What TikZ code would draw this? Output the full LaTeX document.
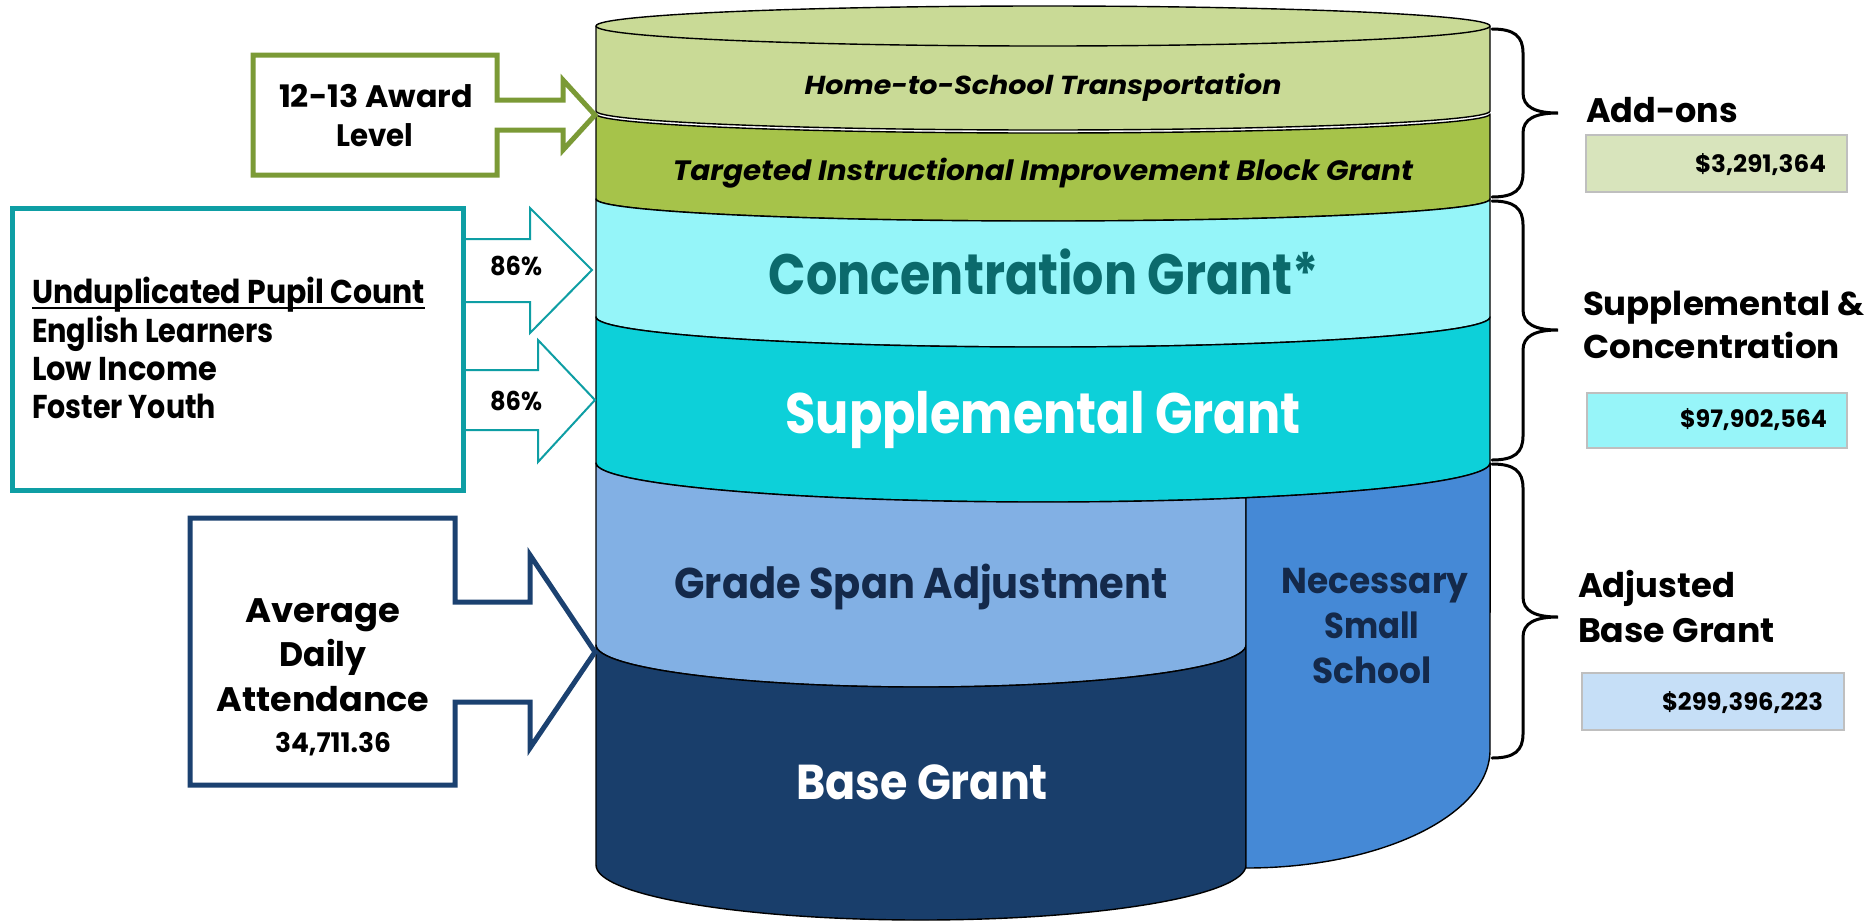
\documentclass[tikz,border=0pt]{standalone}
\usepackage{fontspec}
\setmainfont{Poppins}
\usepackage{graphicx}
\usetikzlibrary{calc}
\definecolor{cTop}{HTML}{C9DA96}
\definecolor{cTiibg}{HTML}{A6C34A}
\definecolor{cConc}{HTML}{95F5F9}
\definecolor{cSupp}{HTML}{0DD0D9}
\definecolor{cGrade}{HTML}{82B0E4}
\definecolor{cNss}{HTML}{4589D6}
\definecolor{cBase}{HTML}{193E6B}
\definecolor{cConcTxt}{HTML}{0B6A6C}
\definecolor{cDark}{HTML}{14294A}
\definecolor{cOlive}{HTML}{7B9A36}
\definecolor{cTeal}{HTML}{0E9EA4}
\definecolor{cNavy}{HTML}{1B4170}
\definecolor{cValA}{HTML}{D8E4BC}
\definecolor{cValB}{HTML}{97F5F9}
\definecolor{cValC}{HTML}{C6DFF7}
\definecolor{cValLine}{HTML}{BFBFBF}
\newcommand\fsz[1]{\fontsize{#1}{#1}\selectfont}
\newcommand\fitw[2]{\resizebox{#1pt}{\height}{#2}}
\newcommand\bracepath[3]{%
  \draw[bracestyle] (1492,#1) .. controls (1514,#1) and (1523,{#1+7}) .. (1523,{#1+24})
    -- (1523,{#2-20}) .. controls (1523,{#2-6}) and (1535,#2) .. (1558,#2)
    .. controls (1535,#2) and (1523,{#2+6}) .. (1523,{#2+20})
    -- (1523,{#3-24}) .. controls (1523,{#3-7}) and (1514,#3) .. (1492,#3);}
\begin{document}
\begin{tikzpicture}[x=1pt,y=1pt,yscale=-1,
  every node/.style={inner sep=0pt,outer sep=0pt},
  cyl/.style={draw=black,line width=1.4pt,line join=round},
  callout/.style={line width=5pt,fill=white,line join=miter},
  thinarrow/.style={draw=cTeal,line width=2pt,fill=white,line join=miter},
  bracestyle/.style={draw=black,line width=3pt,line cap=round},
  valbox/.style={draw=cValLine,line width=1.5pt},
  lbl/.style={anchor=base},
  lblw/.style={anchor=base west},
  lble/.style={anchor=base east}]
\useasboundingbox (0,0) rectangle (1871,922);

% ---------- cylinder layers ----------
% add-ons top layer
\filldraw[cyl,fill=cTop] (596,26) -- (596,111)
  arc[start angle=180,end angle=0,x radius=447pt,y radius=19pt]
  -- (1490,26) arc[start angle=0,end angle=-180,x radius=447pt,y radius=20pt] -- cycle;
\draw[cyl] (596,26) arc[start angle=180,end angle=0,x radius=447pt,y radius=20pt];
% TIIBG
\filldraw[cyl,fill=cTiibg] (596,114)
  arc[start angle=180,end angle=0,x radius=447pt,y radius=19pt]
  -- (1490,199) arc[start angle=0,end angle=180,x radius=447pt,y radius=22pt] -- cycle;
% concentration
\filldraw[cyl,fill=cConc] (596,199)
  arc[start angle=180,end angle=0,x radius=447pt,y radius=22pt]
  -- (1490,317) arc[start angle=0,end angle=180,x radius=447pt,y radius=30pt] -- cycle;
% supplemental
\filldraw[cyl,fill=cSupp] (596,317)
  arc[start angle=180,end angle=0,x radius=447pt,y radius=30pt]
  -- (1490,463) arc[start angle=0,end angle=180,x radius=447pt,y radius=39pt] -- cycle;
% grade span
\filldraw[cyl,fill=cGrade] (596,463)
  arc[start angle=180,end angle=63,x radius=447pt,y radius=39pt]
  -- (1246,645) arc[start angle=0,end angle=180,x radius=325pt,y radius=42pt] -- cycle;
% base grant
\filldraw[cyl,fill=cBase] (596,645)
  arc[start angle=180,end angle=0,x radius=325pt,y radius=42pt]
  -- (1246,865) arc[start angle=0,end angle=180,x radius=325pt,y radius=55pt] -- cycle;
% necessary small school
\filldraw[cyl,fill=cNss] (1246,497.7)
  arc[start angle=63,end angle=0,x radius=447pt,y radius=39pt]
  -- (1490,750) arc[start angle=0,end angle=90,x radius=244pt,y radius=118pt] -- cycle;

% ---------- cylinder texts ----------
\node[lbl,font=\bfseries\itshape\fsz{26}] (home) at (1043,94) {\fitw{477}{Home-to-School Transportation}};
\node[lbl,font=\bfseries\itshape\fsz{28}] (tiibg) at (1043,180) {\fitw{740}{Targeted Instructional Improvement Block Grant}};
\node[lbl,font=\bfseries\fsz{57},text=cConcTxt] (conc) at (1044,294) {\fitw{550}{Concentration Grant*}};
\node[lbl,font=\bfseries\fsz{57},text=white] (supp) at (1043,433) {\fitw{515}{Supplemental Grant}};
\node[lbl,font=\bfseries\fsz{43},text=cDark] (grade) at (921,598) {\fitw{493}{Grade Span Adjustment}};
\node[lbl,font=\bfseries\fsz{36},text=cDark] (nss1) at (1375,593) {\fitw{187}{Necessary}};
\node[lbl,font=\bfseries\fsz{36},text=cDark] (nss2) at (1372,638) {\fitw{95}{Small}};
\node[lbl,font=\bfseries\fsz{36},text=cDark] (nss3) at (1372,683) {\fitw{119}{School}};
\node[lbl,font=\bfseries\fsz{49},text=white] (base) at (922,799) {\fitw{252}{Base Grant}};

% ---------- left callouts ----------
\filldraw[callout,draw=cOlive] (253,55) -- (497,55) -- (497,100) -- (563,100) -- (563,80)
  -- (595,115) -- (563,150) -- (563,130) -- (497,130) -- (497,175) -- (253,175) -- cycle;
\node[lbl,font=\bfseries\fsz{31}] (award1) at (376,107) {\fitw{194}{12-13 Award}};
\node[lbl,font=\bfseries\fsz{31}] (award2) at (375,146) {\fitw{77}{Level}};

\filldraw[thinarrow] (440,239) -- (530,239) -- (530,208) -- (592,270) -- (530,333) -- (530,302) -- (440,302) -- cycle;
\filldraw[thinarrow] (440,370) -- (538,370) -- (538,340) -- (595,400) -- (538,462) -- (538,430) -- (440,430) -- cycle;
\filldraw[draw=cTeal,line width=5pt,fill=white] (12,208) rectangle (463,490);
\node[lbl,font=\bfseries\fsz{26}] (pct1) at (516,275) {\fitw{52}{86\%}};
\node[lbl,font=\bfseries\fsz{26}] (pct2) at (516,410) {\fitw{52}{86\%}};
\node[lblw,font=\bfseries\fsz{33}] (upc) at (32,303) {\fitw{393}{Unduplicated Pupil Count}};
\draw[line width=2pt] ($(upc.base west)+(0,5)$) -- ($(upc.base east)+(0,5)$);
\node[lblw,font=\bfseries\fsz{33}] (el) at (32,342) {\fitw{242}{English Learners}};
\node[lblw,font=\bfseries\fsz{33}] (li) at (32,380) {\fitw{185}{Low Income}};
\node[lblw,font=\bfseries\fsz{33}] (fy) at (32,418) {\fitw{184}{Foster Youth}};

\filldraw[callout,draw=cNavy] (190,518) -- (455,518) -- (455,602) -- (530,602) -- (530,555)
  -- (595,652) -- (530,748) -- (530,702) -- (455,702) -- (455,785) -- (190,785) -- cycle;
\node[lbl,font=\bfseries\fsz{34}] (ada1) at (323,622) {\fitw{155}{Average}};
\node[lbl,font=\bfseries\fsz{34}] (ada2) at (323,666) {\fitw{87}{Daily}};
\node[lbl,font=\bfseries\fsz{34}] (ada3) at (323,711) {\fitw{213}{Attendance}};
\node[lbl,font=\bfseries\fsz{27}] (ada4) at (333,752) {\fitw{116}{34,711.36}};

% ---------- right braces and values ----------
\bracepath{29}{113}{197}
\bracepath{201}{330}{460}
\bracepath{464}{617}{758}

\node[lblw,font=\bfseries\fsz{34}] (addons) at (1586,122) {\fitw{152}{Add-ons}};
\filldraw[valbox,fill=cValA] (1586,135) rectangle (1847,192);
\node[lble,font=\bfseries\fsz{24}] (v1) at (1826,172) {\fitw{131}{\$3,291,364}};

\node[lblw,font=\bfseries\fsz{33}] (sc1) at (1583,315) {\fitw{282}{Supplemental \&}};
\node[lblw,font=\bfseries\fsz{33}] (sc2) at (1583,358) {\fitw{257}{Concentration}};
\filldraw[valbox,fill=cValB] (1587,393) rectangle (1847,448);
\node[lble,font=\bfseries\fsz{24}] (v2) at (1827,427) {\fitw{147}{\$97,902,564}};

\node[lblw,font=\bfseries\fsz{34}] (abg1) at (1578,597) {\fitw{157}{Adjusted}};
\node[lblw,font=\bfseries\fsz{34}] (abg2) at (1578,642) {\fitw{197}{Base Grant}};
\filldraw[valbox,fill=cValC] (1582,673) rectangle (1844,730);
\node[lble,font=\bfseries\fsz{24}] (v3) at (1823,710) {\fitw{161}{\$299,396,223}};
\end{tikzpicture}
\end{document}
